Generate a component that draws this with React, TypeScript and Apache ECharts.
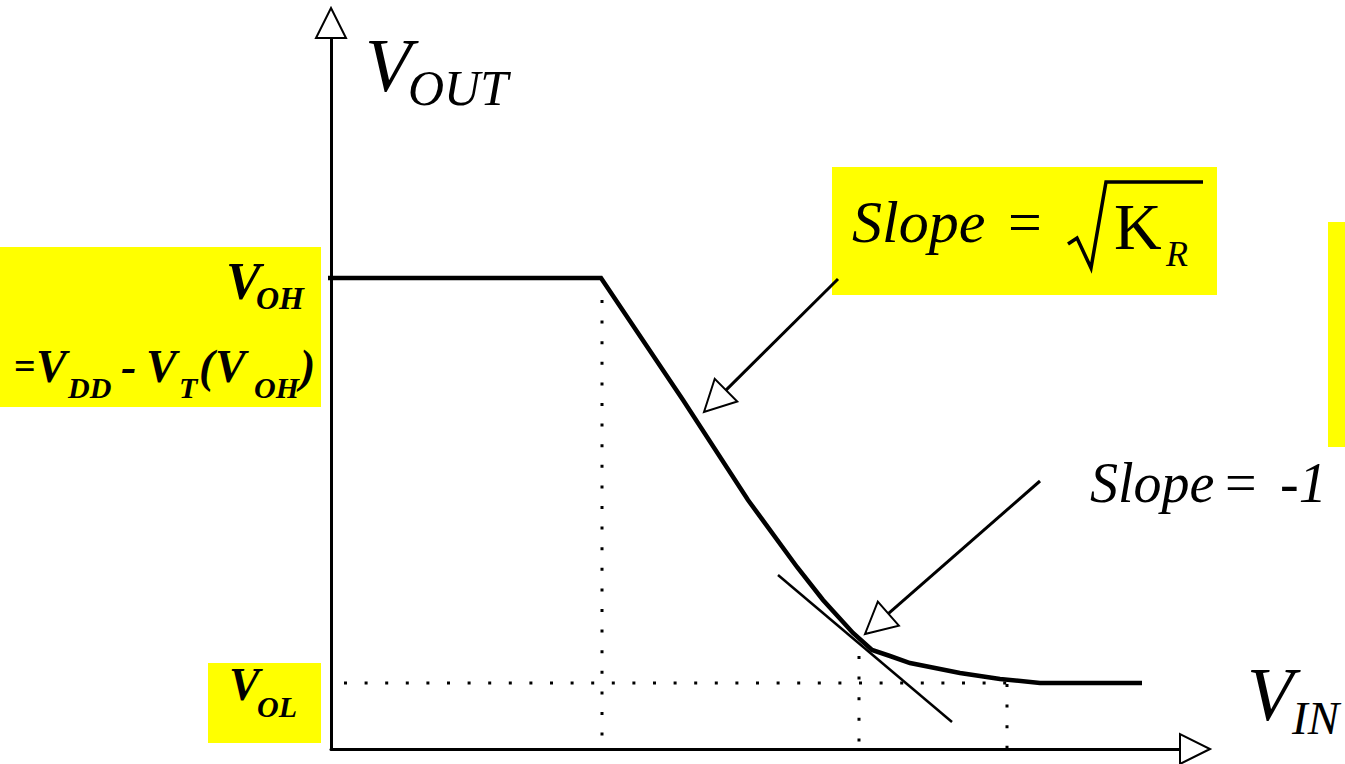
import React, { useEffect, useRef } from "react";
import * as echarts from "echarts";

// Transfer characteristic V_OUT vs V_IN (arbitrary units)
const transferCurve: [number, number][] = [
  [-0.26, 4.71], [2.7, 4.71], [3.52, 3.49], [4.17, 2.49], [4.66, 1.82],
  [4.92, 1.49], [5.22, 1.16], [5.41, 0.99], [5.59, 0.93], [5.79, 0.86],
  [6.29, 0.76], [6.69, 0.7], [7.09, 0.66], [8.11, 0.66],
];
const tangentLine: [number, number][] = [[4.47, 1.74], [6.21, 0.27]];
const dropAtVOHEdge: [number, number][] = [[2.71, 4.49], [2.71, 0]];
const dropAtTangent: [number, number][] = [[5.28, 0.93], [5.28, 0]];
const dropAtVOL: [number, number][] = [[6.76, 0.65], [6.76, 0]];
const levelVOL: [number, number][] = [[0.13, 0.66], [6.76, 0.66]];
// callout arrows: tailX, tailY, tipX, tipY
const calloutArrows: number[][] = [
  [5.07, 4.7, 3.73, 3.37],
  [7.09, 2.68, 5.34, 1.15],
];
const X_MAX = 8.64;
const Y_MAX = 7.26;

const SERIF = '"Liberation Serif", "Times New Roman", serif';
const YELLOW = "#FFFF00";

function txt(text: string, x: number, y: number, size: number, italic: boolean, bold: boolean) {
  return {
    type: "text",
    z: 20,
    style: {
      text,
      x,
      y,
      fontSize: size,
      fontFamily: SERIF,
      fontStyle: italic ? "italic" : "normal",
      fontWeight: bold ? "bold" : "normal",
      fill: "#000",
      align: "left",
      verticalAlign: "middle",
    },
  };
}

function box(x: number, y: number, w: number, h: number) {
  return { type: "rect", z: -10, shape: { x, y, width: w, height: h }, style: { fill: YELLOW } };
}

function dotted(data: [number, number][]) {
  return {
    type: "line",
    data,
    symbol: "none",
    clip: false,
    lineStyle: { color: "#000", width: 3, type: [3, 17.6] },
    z: 3,
  };
}

export default function App() {
  const ref = useRef<HTMLDivElement>(null);
  useEffect(() => {
    if (!ref.current) return;
    const chart = echarts.init(ref.current, undefined, { renderer: "svg" });
    const axisCommon = {
      type: "value",
      min: 0,
      axisTick: { show: false },
      axisLabel: { show: false },
      splitLine: { show: false },
      axisLine: {
        show: true,
        onZero: true,
        symbol: ["none", "emptyTriangle"],
        symbolSize: [30, 30],
        lineStyle: { color: "#000", width: 3 },
      },
    };
    chart.setOption({
      animation: false,
      backgroundColor: "#fff",
      grid: { left: 331, right: 150, top: 23, bottom: 15 },
      xAxis: { ...axisCommon, max: X_MAX },
      yAxis: { ...axisCommon, max: Y_MAX },
      graphic: [
        box(0, 247, 321, 160),
        box(208, 663, 113, 80),
        box(832, 167, 385, 128),
        box(1328, 222, 17, 225),
        // V_OUT
        txt("V", 365, 65, 76, true, false),
        txt("OUT", 408, 88, 50, true, false),
        // V_IN
        txt("V", 1247, 694, 76, true, false),
        txt("IN", 1292, 718, 47, true, false),
        // V_OH label
        txt("V", 226, 281, 52, true, true),
        txt("OH", 256, 298, 32, true, true),
        txt("=", 14, 366, 38, false, true),
        txt("V", 36, 366, 46, true, true),
        txt("DD", 68, 387, 30, true, true),
        txt("-", 121, 366, 46, true, true),
        txt("V", 146, 366, 46, true, true),
        txt("T", 179, 387, 30, true, true),
        txt("(", 199, 366, 46, true, true),
        txt("V", 215, 366, 46, true, true),
        txt("OH", 254, 387, 30, true, true),
        txt(")", 300, 366, 46, true, true),
        // V_OL
        txt("V", 229, 684, 46, true, true),
        txt("OL", 257, 706, 30, true, true),
        // Slope = sqrt(K_R)
        txt("Slope", 852, 222, 60, true, false),
        txt("=", 1008, 222, 60, false, false),
        txt("K", 1114, 226, 66, false, false),
        txt("R", 1166, 254, 36, true, false),
        {
          type: "polyline",
          z: 20,
          shape: { points: [[1068, 244], [1077, 238], [1091, 268], [1106, 182], [1203, 182]] },
          style: { stroke: "#000", lineWidth: 3.5, fill: "none" },
        },
        // Slope = -1
        txt("Slope", 1090, 483, 56, true, false),
        txt("=", 1225, 483, 56, false, false),
        txt("-1", 1280, 483, 56, true, false),
      ],
      series: [
        dotted(dropAtVOHEdge),
        dotted(dropAtTangent),
        dotted(dropAtVOL),
        dotted(levelVOL),
        {
          type: "line",
          data: tangentLine,
          symbol: "none",
          clip: false,
          lineStyle: { color: "#000", width: 2.5 },
          z: 4,
        },
        {
          type: "line",
          data: transferCurve,
          symbol: "none",
          clip: false,
          lineStyle: { color: "#000", width: 4.5, join: "miter" },
          z: 5,
        },
        {
          type: "custom",
          clip: false,
          z: 6,
          data: calloutArrows,
          renderItem: (_params: any, api: any) => {
            const p0 = api.coord([api.value(0), api.value(1)]);
            const p1 = api.coord([api.value(2), api.value(3)]);
            const dx = p1[0] - p0[0];
            const dy = p1[1] - p0[1];
            const len = Math.hypot(dx, dy);
            const ux = dx / len;
            const uy = dy / len;
            const L = 31;
            const W = 16;
            const bx = p1[0] - ux * L;
            const by = p1[1] - uy * L;
            const nx = -uy;
            const ny = ux;
            return {
              type: "group",
              children: [
                {
                  type: "line",
                  shape: { x1: p0[0], y1: p0[1], x2: bx, y2: by },
                  style: { stroke: "#000", lineWidth: 3 },
                },
                {
                  type: "polygon",
                  shape: {
                    points: [
                      [p1[0], p1[1]],
                      [bx + nx * W, by + ny * W],
                      [bx - nx * W, by - ny * W],
                    ],
                  },
                  style: { fill: "#fff", stroke: "#000", lineWidth: 2 },
                },
              ],
            };
          },
        },
      ],
    });
    return () => chart.dispose();
  }, []);
  return (
    <div
      ref={ref}
      style={{ position: "absolute", left: 0, top: 0, width: 1345, height: 764 }}
    />
  );
}
